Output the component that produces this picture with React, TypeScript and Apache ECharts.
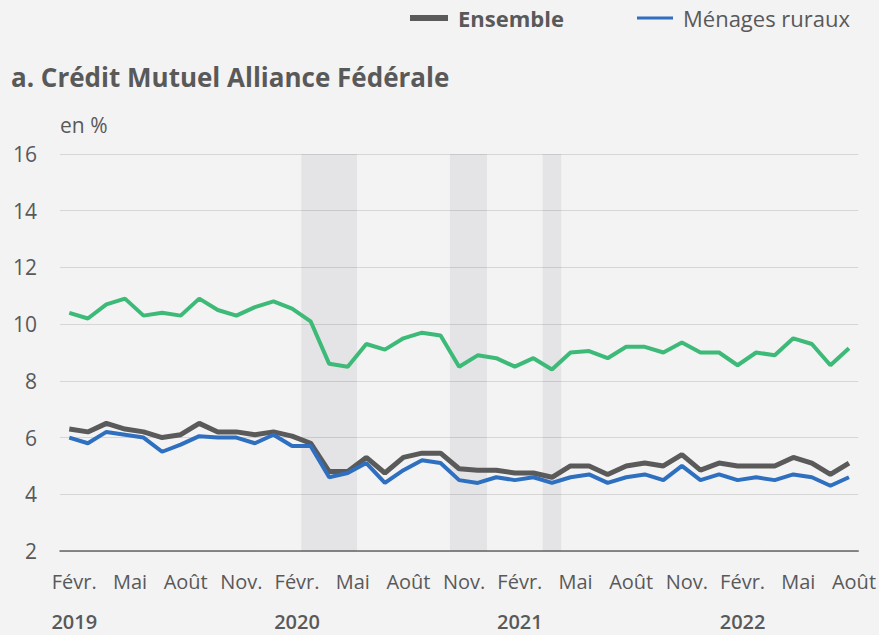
import React, { useEffect, useRef } from "react";
import * as echarts from "echarts";

// ---- Data ----
const startYear = 2019;
const startMonth = 2; // Feb 2019
const monthCount = 43; // Feb 2019 .. Aug 2022
const categories: string[] = [];
for (let i = 0; i < monthCount; i++) {
  const m = ((startMonth - 1 + i) % 12) + 1;
  const y = startYear + Math.floor((startMonth - 1 + i) / 12);
  categories.push(`${y}-${String(m).padStart(2, "0")}`);
}

const monthTickLabels: Record<number, string> = { 2: "Févr.", 5: "Mai", 8: "Août", 11: "Nov." };

const seriesNames = ["Ensemble", "Ménages ruraux", "Autre série"];

const ensemble = [
  6.3, 6.2, 6.5, 6.3, 6.2, 6.0, 6.1, 6.5, 6.2, 6.2, 6.1, 6.2, 6.05, 5.8,
  4.8, 4.8, 5.3, 4.75, 5.3, 5.45, 5.45, 4.9, 4.85, 4.85, 4.75, 4.75, 4.6,
  5.0, 5.0, 4.7, 5.0, 5.1, 5.0, 5.4, 4.85, 5.1, 5.0, 5.0, 5.0, 5.3, 5.1, 4.7, 5.1,
];

const menagesRuraux = [
  6.0, 5.8, 6.2, 6.1, 6.0, 5.5, 5.75, 6.05, 6.0, 6.0, 5.8, 6.1, 5.7, 5.7,
  4.6, 4.75, 5.1, 4.4, 4.85, 5.2, 5.1, 4.5, 4.4, 4.6, 4.5, 4.6, 4.4,
  4.6, 4.7, 4.4, 4.6, 4.7, 4.5, 5.0, 4.5, 4.7, 4.5, 4.6, 4.5, 4.7, 4.6, 4.3, 4.6,
];

const autreSerie = [
  10.4, 10.2, 10.7, 10.9, 10.3, 10.4, 10.3, 10.9, 10.5, 10.3, 10.6, 10.8, 10.55,
  10.1, 8.6, 8.5, 9.3, 9.1, 9.5, 9.7, 9.6, 8.5, 8.9, 8.8, 8.5, 8.8, 8.4,
  9.0, 9.05, 8.8, 9.2, 9.2, 9.0, 9.35, 9.0, 9.0, 8.55, 9.0, 8.9, 9.5, 9.3, 8.55, 9.15,
];

const shadedPeriods: [string, string][] = [
  ["2020-03", "2020-05"],
  ["2020-11", "2020-12"],
  ["2021-04", "2021-04"],
];

const yMin = 2;
const yMax = 16;
const yInterval = 2;

const FONT = "'Open Sans', 'Noto Sans', sans-serif";
const TEXT = "#595959";

export default function App() {
  const ref = useRef<HTMLDivElement>(null);
  useEffect(() => {
    if (!ref.current) return;
    const chart = echarts.init(ref.current, null, { renderer: "svg" });
    const bandData = shadedPeriods.map(([a, b]) => [categories.indexOf(a), categories.indexOf(b)]);

    chart.setOption({
      animation: false,
      backgroundColor: "#f3f3f3",
      textStyle: { fontFamily: FONT },
      title: {
        text: "a. Crédit Mutuel Alliance Fédérale",
        left: 6,
        top: 59,
        textStyle: { fontFamily: FONT, fontSize: 26, fontWeight: "bold", color: TEXT },
      },
      legend: [
        {
          data: [{ name: seriesNames[0], icon: "rect" }],
          left: 410,
          top: 7,
          padding: 0,
          itemWidth: 38,
          itemHeight: 6,
          selectedMode: false,
          textStyle: { fontFamily: FONT, fontSize: 22, fontWeight: "bold", color: TEXT, padding: [0, 0, 0, 5] },
        },
        {
          data: [{ name: seriesNames[1], icon: "rect" }],
          left: 637,
          top: 7,
          padding: 0,
          itemWidth: 36,
          itemHeight: 3,
          selectedMode: false,
          textStyle: { fontFamily: FONT, fontSize: 22, color: TEXT, padding: [0, 0, 0, 5] },
        },
      ],
      graphic: [
        {
          type: "text",
          left: 60,
          top: 114,
          style: { text: "en %", fontFamily: FONT, fontSize: 21, fill: TEXT },
        },
      ],
      grid: { left: 60, right: 20, top: 154, bottom: 84, containLabel: false },
      xAxis: {
        type: "category",
        data: categories,
        boundaryGap: true,
        axisLine: { show: true, lineStyle: { color: "#666666", width: 1.5 } },
        axisTick: { show: false },
        axisLabel: {
          interval: 0,
          margin: 19,
          padding: [0, 0, 0, 10],
          color: TEXT,
          fontFamily: FONT,
          fontSize: 20,
          formatter: (value: string) => {
            const [y, m] = value.split("-").map(Number);
            const lab = monthTickLabels[m];
            if (!lab) return "";
            if (m === 2) return `{m|${lab}}\n{y|${y}}`;
            return `{m|${lab}}`;
          },
          rich: {
            m: { fontFamily: FONT, fontSize: 20, color: TEXT, lineHeight: 22 },
            y: { fontFamily: FONT, fontSize: 20, fontWeight: 600, color: TEXT, lineHeight: 59 },
          },
        },
        splitLine: { show: false },
      },
      yAxis: {
        type: "value",
        min: yMin,
        max: yMax,
        interval: yInterval,
        axisLine: { show: false },
        axisTick: { show: false },
        axisLabel: { margin: 23, color: TEXT, fontFamily: FONT, fontSize: 21 },
        splitLine: { lineStyle: { color: "#d6d6d6", width: 1 } },
      },
      series: [
        {
          type: "custom",
          name: "bands",
          silent: true,
          z: 1,
          data: bandData,
          encode: { x: [0, 1] },
          renderItem: (params: any, api: any) => {
            const w = api.size([1, 0])[0];
            const p1 = api.coord([api.value(0), yMax]);
            const p2 = api.coord([api.value(1), yMin]);
            return {
              type: "rect",
              shape: { x: p1[0] - w / 2, y: p1[1], width: p2[0] - p1[0] + w, height: p2[1] - p1[1] },
              style: { fill: "rgba(30,30,60,0.065)" },
            };
          },
        },
        {
          type: "line",
          name: seriesNames[2],
          data: autreSerie,
          symbol: "none",
          z: 3,
          lineStyle: { color: "#3dba78", width: 4 },
          itemStyle: { color: "#3dba78" },
        },
        {
          type: "line",
          name: seriesNames[0],
          data: ensemble,
          symbol: "none",
          z: 4,
          lineStyle: { color: "#5a5a5a", width: 5 },
          itemStyle: { color: "#5a5a5a" },
        },
        {
          type: "line",
          name: seriesNames[1],
          data: menagesRuraux,
          symbol: "none",
          z: 5,
          lineStyle: { color: "#2f6fc0", width: 4 },
          itemStyle: { color: "#2f6fc0" },
        },
      ],
    });
    return () => chart.dispose();
  }, []);
  return (
    <div
      ref={ref}
      style={{ position: "absolute", left: 0, top: 0, width: 879, height: 635 }}
    />
  );
}
